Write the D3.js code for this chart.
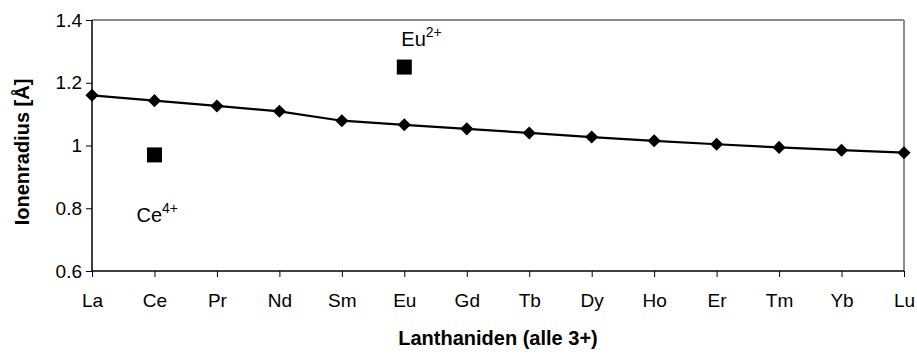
<!DOCTYPE html>
<html><head><meta charset="utf-8">
<script src="https://cdn.jsdelivr.net/npm/d3@7"></script>
<style>body{margin:0;background:#fff}svg{display:block}text{font-family:"Liberation Sans",Arial,sans-serif}</style>
</head><body>
<script>
const categories = ["La","Ce","Pr","Nd","Sm","Eu","Gd","Tb","Dy","Ho","Er","Tm","Yb","Lu"];
const radii3 = [1.160,1.143,1.126,1.109,1.079,1.066,1.053,1.040,1.027,1.015,1.004,0.994,0.985,0.977];
const special = [{cat:"Ce", value:0.97, label:"Ce", sup:"4+"},{cat:"Eu", value:1.25, label:"Eu", sup:"2+"}];
const yTicks = [0.6,0.8,1,1.2,1.4];

const W=917,H=356, m={l:92,r:13,t:20,b:85};
const svg=d3.select("body").append("svg").attr("width",W).attr("height",H);
const x=d3.scalePoint().domain(categories).range([m.l,W-m.r]);
const y=d3.scaleLinear().domain([0.6,1.4]).range([H-m.b,m.t]);

svg.append("line").attr("x1",m.l).attr("x2",W-m.r).attr("y1",m.t).attr("y2",m.t).attr("stroke","#8c8c8c").attr("stroke-width",2);
svg.append("line").attr("x1",W-m.r).attr("x2",W-m.r).attr("y1",m.t).attr("y2",H-m.b).attr("stroke","#8c8c8c").attr("stroke-width",2);

const ya=svg.append("g").attr("transform",`translate(${m.l},0)`).call(d3.axisLeft(y).tickValues(yTicks).tickSize(6).tickPadding(4).tickFormat(d=>String(d)));
const xa=svg.append("g").attr("transform",`translate(0,${H-m.b})`).call(d3.axisBottom(x).tickSize(6).tickPadding(17));
[ya,xa].forEach(a=>{a.attr("font-size",19).attr("font-family","Liberation Sans, Arial, sans-serif");a.select(".domain").attr("stroke","#000").attr("stroke-width",1.5);a.selectAll(".tick line").attr("stroke","#000");a.selectAll("text").attr("fill","#000");});
ya.select(".domain").attr("d",`M0,${m.t}V${H-m.b}`);
xa.select(".domain").attr("d",`M${m.l},0H${W-m.r}`);

const line=d3.line().x((d,i)=>x(categories[i])).y(d=>y(d));
svg.append("path").datum(radii3).attr("d",line).attr("fill","none").attr("stroke","#000").attr("stroke-width",2.2);
svg.selectAll(".dia").data(radii3).join("path").attr("d",d3.symbol(d3.symbolDiamond2,110)).attr("transform",(d,i)=>`translate(${x(categories[i])},${y(d)})`).attr("fill","#000");
svg.selectAll(".sq").data(special).join("rect").attr("x",d=>x(d.cat)-7.5).attr("y",d=>y(d.value)-7.5).attr("width",15).attr("height",15).attr("fill","#000");

const lbl=[{d:special[0],dx:-18,dy:67},{d:special[1],dx:-3,dy:-21}];
lbl.forEach(o=>{
  const t=svg.append("text").attr("x",x(o.d.cat)+o.dx).attr("y",y(o.d.value)+o.dy).attr("font-size",20).attr("fill","#000");
  t.append("tspan").text(o.d.label);
  t.append("tspan").text(o.d.sup).attr("font-size",14).attr("dy",-9);
});

svg.append("text").attr("x",(m.l+W-m.r)/2).attr("y",345).attr("text-anchor","middle").attr("font-size",20).attr("font-weight","bold").text("Lanthaniden (alle 3+)");
svg.append("text").attr("transform",`translate(29,152) rotate(-90)`).attr("text-anchor","middle").attr("font-size",20).attr("font-weight","bold").text("Ionenradius [Å]");
</script>
</body></html>
